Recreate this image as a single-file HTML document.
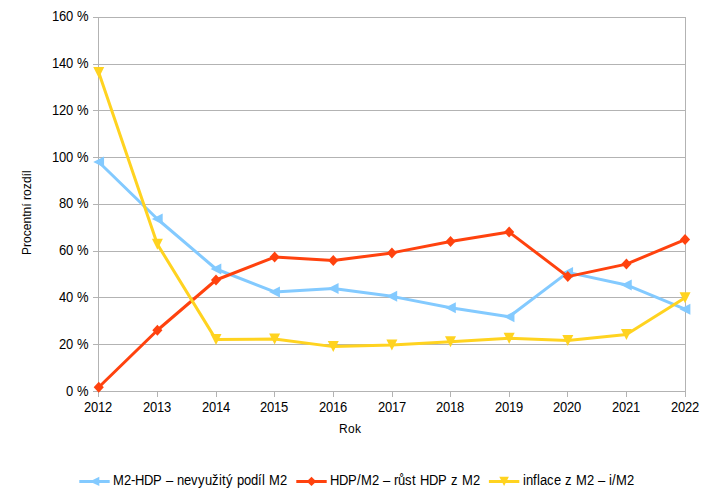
<!DOCTYPE html>
<html><head><meta charset="utf-8"><title>chart</title>
<style>
html,body{margin:0;padding:0;background:#fff;}
body{width:714px;height:493px;overflow:hidden;position:relative;font-family:"Liberation Sans",sans-serif;}
svg{position:absolute;left:0;top:0;}
text{font-family:"Liberation Sans",sans-serif;fill:#000;}
.l{font-size:13px;}
.t{font-size:12px;}
</style></head><body>
<svg width="714" height="493" viewBox="0 0 714 493">
<rect width="714" height="493" fill="#fff"/>
<g fill="#b3b3b3" shape-rendering="crispEdges">
<rect x="93" y="17" width="593" height="1"/>
<rect x="93" y="64" width="593" height="1"/>
<rect x="93" y="110" width="593" height="1"/>
<rect x="93" y="157" width="593" height="1"/>
<rect x="93" y="204" width="593" height="1"/>
<rect x="93" y="251" width="593" height="1"/>
<rect x="93" y="297" width="593" height="1"/>
<rect x="93" y="344" width="593" height="1"/>
<rect x="93" y="391" width="593" height="1"/>
<rect x="98" y="17" width="1" height="380"/>
<rect x="685" y="17" width="1" height="380"/>
<rect x="157" y="391" width="1" height="6"/>
<rect x="216" y="391" width="1" height="6"/>
<rect x="274" y="391" width="1" height="6"/>
<rect x="333" y="391" width="1" height="6"/>
<rect x="392" y="391" width="1" height="6"/>
<rect x="450" y="391" width="1" height="6"/>
<rect x="509" y="391" width="1" height="6"/>
<rect x="567" y="391" width="1" height="6"/>
<rect x="626" y="391" width="1" height="6"/>
</g>
<polyline points="98.75,161.96 157.38,218.99 216.01,269.01 274.64,291.92 333.27,288.42 391.90,296.36 450.53,307.82 509.16,316.70 567.79,272.40 626.42,284.91 685.05,309.22" fill="none" stroke="#83caff" stroke-width="3" stroke-linejoin="round" stroke-linecap="butt"/>
<g fill="#83caff">
<polygon points="93.25,161.96 104.05,156.46 104.05,167.46"/>
<polygon points="151.88,218.99 162.68,213.49 162.68,224.49"/>
<polygon points="210.51,269.01 221.31,263.51 221.31,274.51"/>
<polygon points="269.14,291.92 279.94,286.42 279.94,297.42"/>
<polygon points="327.77,288.42 338.57,282.92 338.57,293.92"/>
<polygon points="386.40,296.36 397.20,290.86 397.20,301.86"/>
<polygon points="445.03,307.82 455.83,302.32 455.83,313.32"/>
<polygon points="503.66,316.70 514.46,311.20 514.46,322.20"/>
<polygon points="562.29,272.40 573.09,266.90 573.09,277.90"/>
<polygon points="620.92,284.91 631.72,279.41 631.72,290.41"/>
<polygon points="679.55,309.22 690.35,303.72 690.35,314.72"/>
</g>
<polyline points="98.75,387.29 157.38,330.26 216.01,280.00 274.64,257.09 333.27,260.60 391.90,252.89 450.53,241.43 509.16,232.08 567.79,276.61 626.42,264.11 685.05,239.56" fill="none" stroke="#ff420e" stroke-width="3" stroke-linejoin="round" stroke-linecap="butt"/>
<g fill="#ff420e">
<polygon points="98.75,381.79 103.80,387.29 98.75,392.79 93.70,387.29"/>
<polygon points="157.38,324.76 162.43,330.26 157.38,335.76 152.33,330.26"/>
<polygon points="216.01,274.50 221.06,280.00 216.01,285.50 210.96,280.00"/>
<polygon points="274.64,251.59 279.69,257.09 274.64,262.59 269.59,257.09"/>
<polygon points="333.27,255.10 338.32,260.60 333.27,266.10 328.22,260.60"/>
<polygon points="391.90,247.39 396.95,252.89 391.90,258.39 386.85,252.89"/>
<polygon points="450.53,235.93 455.58,241.43 450.53,246.93 445.48,241.43"/>
<polygon points="509.16,226.58 514.21,232.08 509.16,237.58 504.11,232.08"/>
<polygon points="567.79,271.11 572.84,276.61 567.79,282.11 562.74,276.61"/>
<polygon points="626.42,258.61 631.47,264.11 626.42,269.61 621.37,264.11"/>
<polygon points="685.05,234.06 690.10,239.56 685.05,245.06 680.00,239.56"/>
</g>
<polyline points="98.75,72.55 157.38,244.24 216.01,339.61 274.64,338.91 333.27,346.62 391.90,344.98 450.53,341.71 509.16,338.32 567.79,340.54 626.42,334.47 685.05,297.77" fill="none" stroke="#ffd320" stroke-width="3" stroke-linejoin="round" stroke-linecap="butt"/>
<g fill="#ffd320">
<polygon points="93.25,67.05 104.25,67.05 98.75,78.05"/>
<polygon points="151.88,238.74 162.88,238.74 157.38,249.74"/>
<polygon points="210.51,334.11 221.51,334.11 216.01,345.11"/>
<polygon points="269.14,333.41 280.14,333.41 274.64,344.41"/>
<polygon points="327.77,341.12 338.77,341.12 333.27,352.12"/>
<polygon points="386.40,339.48 397.40,339.48 391.90,350.48"/>
<polygon points="445.03,336.21 456.03,336.21 450.53,347.21"/>
<polygon points="503.66,332.82 514.66,332.82 509.16,343.82"/>
<polygon points="562.29,335.04 573.29,335.04 567.79,346.04"/>
<polygon points="620.92,328.97 631.92,328.97 626.42,339.97"/>
<polygon points="679.55,292.27 690.55,292.27 685.05,303.27"/>
</g>
<text class="l" transform="translate(51.9,21) scale(1,1.055)" x="0 7 14 21 25" y="0" xml:space="preserve">160 %</text>
<text class="l" transform="translate(51.9,68) scale(1,1.055)" x="0 7 14 21 25" y="0" xml:space="preserve">140 %</text>
<text class="l" transform="translate(51.9,115) scale(1,1.055)" x="0 7 14 21 25" y="0" xml:space="preserve">120 %</text>
<text class="l" transform="translate(51.9,162) scale(1,1.055)" x="0 7 14 21 25" y="0" xml:space="preserve">100 %</text>
<text class="l" transform="translate(58.9,208) scale(1,1.055)" x="0 7 14 18" y="0" xml:space="preserve">80 %</text>
<text class="l" transform="translate(58.9,255) scale(1,1.055)" x="0 7 14 18" y="0" xml:space="preserve">60 %</text>
<text class="l" transform="translate(58.9,302) scale(1,1.055)" x="0 7 14 18" y="0" xml:space="preserve">40 %</text>
<text class="l" transform="translate(58.9,349) scale(1,1.055)" x="0 7 14 18" y="0" xml:space="preserve">20 %</text>
<text class="l" transform="translate(65.9,396) scale(1,1.055)" x="0 7 11" y="0" xml:space="preserve">0 %</text>
<text class="l" transform="translate(84,412) scale(1,1.055)" x="0 7 14 21" y="0" xml:space="preserve">2012</text>
<text class="l" transform="translate(143,412) scale(1,1.055)" x="0 7 14 21" y="0" xml:space="preserve">2013</text>
<text class="l" transform="translate(202,412) scale(1,1.055)" x="0 7 14 21" y="0" xml:space="preserve">2014</text>
<text class="l" transform="translate(260,412) scale(1,1.055)" x="0 7 14 21" y="0" xml:space="preserve">2015</text>
<text class="l" transform="translate(319,412) scale(1,1.055)" x="0 7 14 21" y="0" xml:space="preserve">2016</text>
<text class="l" transform="translate(378,412) scale(1,1.055)" x="0 7 14 21" y="0" xml:space="preserve">2017</text>
<text class="l" transform="translate(436,412) scale(1,1.055)" x="0 7 14 21" y="0" xml:space="preserve">2018</text>
<text class="l" transform="translate(495,412) scale(1,1.055)" x="0 7 14 21" y="0" xml:space="preserve">2019</text>
<text class="l" transform="translate(553,412) scale(1,1.055)" x="0 7 14 21" y="0" xml:space="preserve">2020</text>
<text class="l" transform="translate(612,412) scale(1,1.055)" x="0 7 14 21" y="0" xml:space="preserve">2021</text>
<text class="l" transform="translate(671,412) scale(1,1.055)" x="0 7 14 21" y="0" xml:space="preserve">2022</text>
<text class="t" transform="translate(339,433) scale(1,1.03)" x="0 9 16" y="0" xml:space="preserve">Rok</text>
<text class="t" transform="translate(31,212.7) rotate(-90)" text-anchor="middle" letter-spacing="0.05">Procentní rozdíl</text>
<rect x="79.3" y="480" width="30.4" height="3" fill="#83caff"/>
<g fill="#83caff"><polygon points="89.70,481.40 99.30,476.70 99.30,486.10"/></g>
<text class="l" transform="translate(113,485) scale(1,1.055)" x="0 11 18 22 31 40 49 53 60 64 71 78 85 92 99 106 109 113 120 124 131 138 145 149 152 156 167" y="0" xml:space="preserve">M2-HDP – nevyužitý podíl M2</text>
<rect x="296.3" y="480" width="30.4" height="3" fill="#ff420e"/>
<g fill="#ff420e"><polygon points="311.50,476.70 316.30,481.40 311.50,486.10 306.70,481.40"/></g>
<text class="l" transform="translate(330,485) scale(1,1.055)" x="0 9 18 27 31 42 49 53 60 64 68 75 82 86 90 99 108 117 121 128 132 143" y="0" xml:space="preserve">HDP/M2 – růst HDP z M2</text>
<rect x="488.9" y="480" width="30.4" height="3" fill="#ffd320"/>
<g fill="#ffd320"><polygon points="499.30,476.70 508.90,476.70 504.10,486.10"/></g>
<text class="l" transform="translate(523,485) scale(1,1.055)" x="0 3 10 14 17 24 31 38 42 49 53 64 71 75 82 86 89 93 104" y="0" xml:space="preserve">inflace z M2 – i/M2</text>
</svg></body></html>
